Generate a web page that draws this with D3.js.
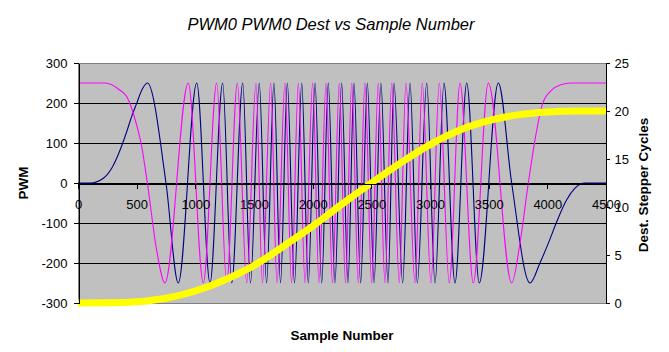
<!DOCTYPE html>
<html>
<head>
<meta charset="utf-8">
<script src="https://cdn.jsdelivr.net/npm/d3@7"></script>
<style>
  body { margin: 0; background: #fff; }
  text { font-family: "Liberation Sans", Arial, sans-serif; }
</style>
</head>
<body>
<div id="chart"></div>
<script>
// tick labels
var xTicks = [0, 500, 1000, 1500, 2000, 2500, 3000, 3500, 4000, 4500];
var pwmTicks = [-300, -200, -100, 0, 100, 200, 300];
var cycleTicks = [0, 5, 10, 15, 20, 25];

// PWM0 (navy): start ramp, peaks/troughs, end ramp
var blueSample = [0, 102, 216, 287, 358, 415, 457, 500, 543, 591, 750, 855, 1012, 1125, 1233, 1310, 1404, 1470,
    1545, 1607, 1670, 1726, 1784, 1845, 1907, 1963, 2020, 2077, 2133, 2190, 2247, 2301, 2352, 2409,
    2466, 2523, 2582, 2642, 2693, 2767, 2830, 2892, 2972, 3043, 3119, 3213, 3313, 3420, 3582, 3696,
    3852, 3937, 4008, 4080, 4165, 4236, 4321, 4500];
var bluePwm = [0, 0, 12, 37, 82, 128, 166, 199, 232, 250, 0, -250, 250, -250, 250, -250, 250, -250,
    250, -250, 250, -250, 250, -250, 250, -250, 250, -250, 250, -250, 250, -250, 250, -250,
    250, -250, 250, -250, 250, -250, 250, -250, 250, -250, 250, -250, 250, -250, 250, 0,
    -250, -200, -151, -97, -42, -13, 0, 0];

// PWM0 (magenta)
var magSample = [0, 230, 358, 415, 457, 500, 543, 591, 670, 741, 940, 1068, 1182, 1267, 1358, 1438, 1517,
    1572, 1642, 1696, 1764, 1820, 1878, 1935, 2000, 2054, 2114, 2169, 2227, 2280, 2333, 2389,
    2446, 2503, 2559, 2616, 2674, 2738, 2795, 2872, 2934, 3008, 3079, 3164, 3256, 3369, 3497,
    3696, 3767, 3838, 3895, 3960, 4037, 4108, 4207, 4500];
var magPwm = [250, 250, 232, 216, 187, 145, 91, 0, -167, -250, 250, -250, 250, -250, 250, -250, 250,
    -250, 250, -250, 250, -250, 250, -250, 250, -250, 250, -250, 250, -250, 250, -250,
    250, -250, 250, -250, 250, -250, 250, -250, 250, -250, 250, -250, 250, -250, 250,
    -250, -150, 0, 108, 199, 232, 245, 250, 250];

// Dest (yellow), stepper cycles on right axis
var destSample = [0, 300, 500, 750, 1000, 1250, 1500, 1750, 2000, 2250, 2500, 2750, 3000, 3250, 3500, 3750, 4000, 4250, 4500];
var destCycles = [0, 0.02, 0.12, 0.5, 1.25, 2.4, 3.9, 5.9, 8.0, 10.3, 12.5, 14.6, 16.5, 18.0, 19.0, 19.6, 19.9, 20.0, 20.0];

var W = 669, H = 352;
var plot = { left: 78, right: 606, top: 63, bottom: 303 };

var svg = d3.select("#chart").append("svg")
    .attr("width", W)
    .attr("height", H);

var x = d3.scaleLinear().domain([0, 4500]).range([plot.left, plot.right]);
var yL = d3.scaleLinear().domain([-300, 300]).range([plot.bottom, plot.top]);
var yR = d3.scaleLinear().domain([0, 25]).range([plot.bottom, plot.top]);

// plot area
svg.append("rect")
    .attr("x", plot.left).attr("y", plot.top)
    .attr("width", plot.right - plot.left).attr("height", plot.bottom - plot.top)
    .attr("fill", "#c0c0c0")
    .attr("stroke", "#808080")
    .attr("shape-rendering", "crispEdges");

// gridlines
svg.append("g").selectAll("line")
    .data(pwmTicks.filter(function (d) { return d > -300 && d < 300; }))
    .enter().append("line")
    .attr("x1", plot.left).attr("x2", plot.right)
    .attr("y1", function (d) { return Math.round(yL(d)) + 0.5; })
    .attr("y2", function (d) { return Math.round(yL(d)) + 0.5; })
    .attr("stroke", "#000")
    .attr("shape-rendering", "crispEdges");

// series
var blueLine = d3.line()
    .x(function (d, i) { return x(blueSample[i]); })
    .y(function (d) { return yL(d); })
    .curve(d3.curveMonotoneX);
var magLine = d3.line()
    .x(function (d, i) { return x(magSample[i]); })
    .y(function (d) { return yL(d); })
    .curve(d3.curveMonotoneX);
var destLine = d3.line()
    .x(function (d, i) { return x(destSample[i]); })
    .y(function (d) { return yR(d); })
    .curve(d3.curveMonotoneX);

svg.append("path")
    .attr("d", blueLine(bluePwm))
    .attr("fill", "none")
    .attr("stroke", "#000080")
    .attr("stroke-width", 1.1);

svg.append("path")
    .attr("d", magLine(magPwm))
    .attr("fill", "none")
    .attr("stroke", "#ff00ff")
    .attr("stroke-width", 1.1);

svg.append("path")
    .attr("d", destLine(destCycles))
    .attr("fill", "none")
    .attr("stroke", "#ffff00")
    .attr("stroke-width", 7);

// axes
var fmt = function (d) { return String(d); };

var gL = svg.append("g")
    .attr("transform", "translate(" + (plot.left + 0.5) + ",0)")
    .call(d3.axisLeft(yL).tickValues(pwmTicks).tickSize(5).tickSizeOuter(0).tickPadding(6).tickFormat(fmt));

var gR = svg.append("g")
    .attr("transform", "translate(" + (plot.right - 0.5) + ",0)")
    .call(d3.axisRight(yR).tickValues(cycleTicks).tickSize(4).tickSizeOuter(0).tickPadding(5).tickFormat(fmt));

var gX = svg.append("g")
    .attr("transform", "translate(0," + (Math.round(yL(0)) + 0.5) + ")")
    .call(d3.axisBottom(x).tickValues(xTicks).tickSize(5).tickSizeOuter(0).tickPadding(11).tickFormat(fmt));

[gL, gR, gX].forEach(function (g) {
    g.selectAll("path, line").attr("stroke", "#000").attr("shape-rendering", "crispEdges");
    g.selectAll("text")
        .attr("fill", "#000")
        .style("font-size", "13px")
        .style("font-family", "'Liberation Sans', Arial, sans-serif");
});

// titles
svg.append("text")
    .attr("x", 331).attr("y", 30)
    .attr("text-anchor", "middle")
    .style("font-size", "16.5px")
    .style("font-style", "italic")
    .text("PWM0 PWM0 Dest vs Sample Number");

svg.append("text")
    .attr("x", 342).attr("y", 340)
    .attr("text-anchor", "middle")
    .style("font-size", "13.5px")
    .style("font-weight", "bold")
    .text("Sample Number");

svg.append("text")
    .attr("transform", "translate(28,183) rotate(-90)")
    .attr("text-anchor", "middle")
    .style("font-size", "13.5px")
    .style("font-weight", "bold")
    .text("PWM");

svg.append("text")
    .attr("transform", "translate(648,185) rotate(-90)")
    .attr("text-anchor", "middle")
    .style("font-size", "13.5px")
    .style("font-weight", "bold")
    .text("Dest. Stepper Cycles");
</script>
</body>
</html>
